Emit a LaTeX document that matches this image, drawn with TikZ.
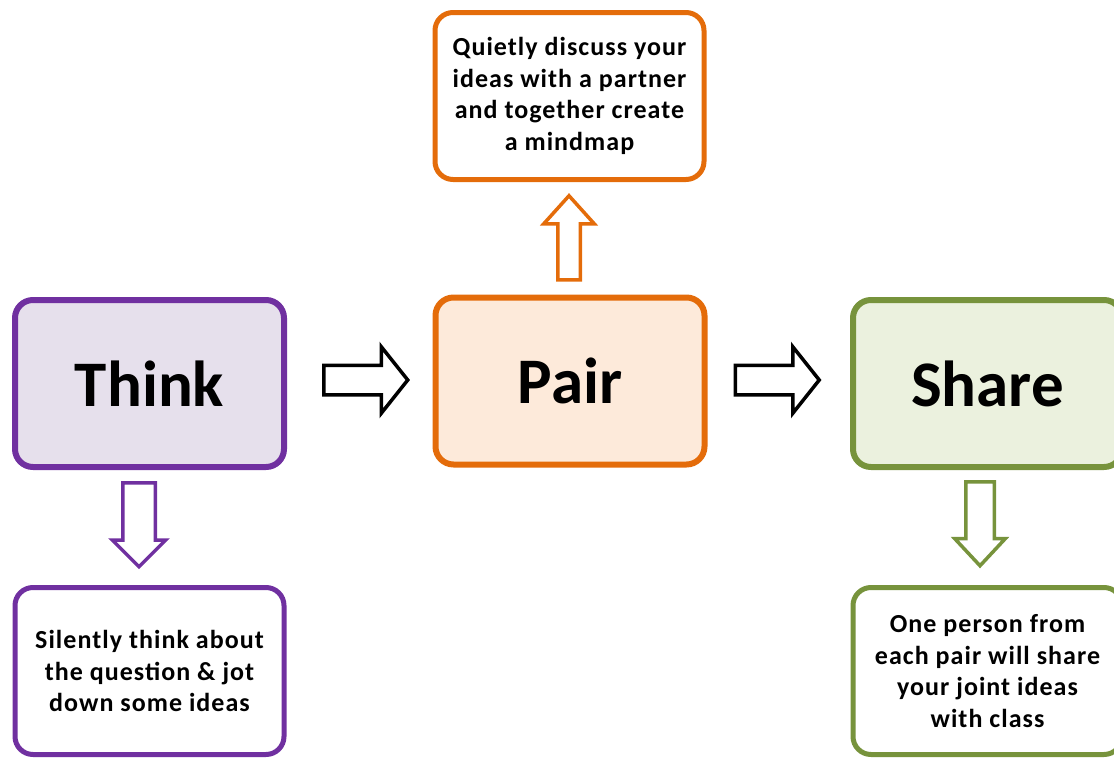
\documentclass[tikz,border=0pt]{standalone}
\usepackage{fontspec}
\setmainfont{Carlito}
\newfontfamily\notefont{Carlito}[LetterSpace=4.0]
\usepackage{xcolor}
\definecolor{thinkline}{HTML}{7030A0}
\definecolor{thinkfill}{HTML}{E6E0EC}
\definecolor{pairline}{HTML}{E46C0A}
\definecolor{pairfill}{HTML}{FDEADA}
\definecolor{shareline}{HTML}{77933C}
\definecolor{sharefill}{HTML}{EBF1DE}
\usepackage{tikz}
\usetikzlibrary{calc, positioning, shapes.arrows}

\begin{document}
\begin{tikzpicture}[x=1pt, y=-1pt,
	stagebox/.style={draw, line width=6pt, rounded corners=18pt, minimum width=269pt, minimum height=167pt, font=\fontsize{65}{70}\selectfont\bfseries},
	notebox/.style={draw, line width=5pt, fill=white, rounded corners=18pt, minimum width=269pt, minimum height=167pt, align=center, font=\notefont\fontsize{26}{31.5}\selectfont\bfseries},
	blockarrow/.style={single arrow, draw, line width=3.5pt, fill=white, inner xsep=0pt, minimum height=84pt, minimum width=1pt}
]

\useasboundingbox (0,0) rectangle (1114,758); % page

% the three stages
\node[stagebox, draw=thinkline, fill=thinkfill] (think) at (149.5,383.5) {Think};
\node[stagebox, draw=pairline,  fill=pairfill]  (pair)  at (570,381)     {Pair};
\node[stagebox, draw=shareline, fill=sharefill] (share) at (987.5,383.5) {Share};

% what to do in each stage
\node[notebox, draw=thinkline] (thinknote) at (149.5,671) {Silently think about\\the question \& jot\\down some ideas};
\node[notebox, draw=pairline]  (pairnote)  at (569.5,96)  {Quietly discuss your\\ideas with a partner\\and together create\\a mindmap};
\node[notebox, draw=shareline] (sharenote) at (987.5,671) {One person from\\each pair will share\\your joint ideas\\with class};

% block arrows (inner ysep = half the shaft)
\node[blockarrow, anchor=tail, inner ysep=13pt, single arrow head extend=18.5pt, single arrow tip angle=103] (thinkpair) at ([xshift=35pt, yshift=3.5pt]think.east) {};
\node[blockarrow, anchor=tail, inner ysep=13pt, single arrow head extend=18.5pt, single arrow tip angle=103] (pairshare) at ([xshift=26pt, yshift=1pt]pair.east) {};
\node[blockarrow, draw=pairline, anchor=tail, rotate=90, inner ysep=9.5pt, single arrow head extend=14pt, single arrow tip angle=84] (pairup) at ([xshift=-1pt, yshift=13pt]pair.north) {};
\node[blockarrow, draw=thinkline, anchor=tail, rotate=-90, inner ysep=14.5pt, single arrow head extend=10.5pt, single arrow tip angle=90] (thinkdown) at ([xshift=-10.5pt, yshift=-11pt]think.south) {};
\node[blockarrow, draw=shareline, anchor=tail, rotate=-90, inner ysep=12.5pt, single arrow head extend=11pt, single arrow tip angle=86] (sharedown) at ([xshift=-7.5pt, yshift=-10pt]share.south) {};

\end{tikzpicture}
\end{document}
